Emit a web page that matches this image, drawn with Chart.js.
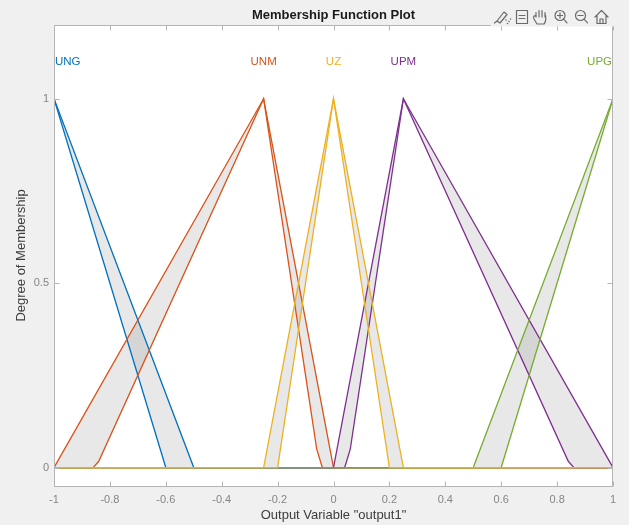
<!DOCTYPE html>
<html>
<head>
<meta charset="utf-8">
<title>Membership Function Plot</title>
<script src="https://cdn.jsdelivr.net/npm/chart.js@4/dist/chart.umd.min.js"></script>
<style>
  html, body { margin: 0; padding: 0; background: #f0f0f0; }
  #wrap { width: 629px; height: 525px; }
</style>
</head>
<body>
<div id="wrap"><canvas id="mf" width="629" height="525"></canvas></div>
<script>
// Axis ticks
const xTicks = [-1, -0.8, -0.6, -0.4, -0.2, 0, 0.2, 0.4, 0.6, 0.8, 1];
const yTicks = [0, 0.5, 1];

// Interval type-2 membership functions of "output1"
const mfNames = ['UNG', 'UNM', 'UZ', 'UPM', 'UPG'];
const mfPeaks = [-1, -0.25, 0, 0.25, 1];

// [x, degree] vertices of the upper and lower membership functions
const ungUpper = [[-1, 1], [-0.5, 0], [1, 0]];
const ungLower = [[-1, 1], [-0.6, 0], [1, 0]];
const unmUpper = [[-1, 0], [-0.25, 1], [0, 0], [1, 0]];
const unmLower = [[-1, 0], [-0.86, 0], [-0.84, 0.017], [-0.25, 1], [-0.06, 0.05], [-0.04, 0], [1, 0]];
const uzUpper  = [[-1, 0], [-0.25, 0], [0, 1], [0.25, 0], [1, 0]];
const uzLower  = [[-1, 0], [-0.2, 0], [0, 1], [0.2, 0], [1, 0]];
const upmUpper = [[-1, 0], [0, 0], [0.25, 1], [1, 0]];
const upmLower = [[-1, 0], [0.04, 0], [0.06, 0.05], [0.25, 1], [0.84, 0.017], [0.86, 0], [1, 0]];
const upgUpper = [[-1, 0], [0.5, 0], [1, 1]];
const upgLower = [[-1, 0], [0.6, 0], [1, 1]];

const mfUpper = [ungUpper, unmUpper, uzUpper, upmUpper, upgUpper];
const mfLower = [ungLower, unmLower, uzLower, upmLower, upgLower];

const palette = ['#0072BD', '#D95319', '#EDB120', '#7E2F8E', '#77AC30'];
const drawOrder = [4, 3, 0, 2, 1];   // smaller = drawn later (on top)
const FONT = '"Liberation Sans", Arial, Helvetica, sans-serif';

const toPts = arr => arr.map(([x, y]) => ({ x, y }));

const datasets = [];
mfNames.forEach((name, i) => {
  const upperIndex = datasets.length;
  datasets.push({
    label: name + ' upper',
    data: toPts(mfUpper[i]),
    borderColor: palette[i],
    borderWidth: 1.3,
    pointRadius: 0,
    tension: 0,
    fill: false,
    order: drawOrder[i]
  });
  datasets.push({
    label: name + ' lower',
    data: toPts(mfLower[i]),
    borderColor: palette[i],
    borderWidth: 1.3,
    pointRadius: 0,
    tension: 0,
    fill: { target: upperIndex },
    backgroundColor: 'rgba(120,120,120,0.17)',
    order: drawOrder[i]
  });
});

// Frame, inward ticks, MF names, title and the axes toolbar
const decor = {
  id: 'decor',
  beforeDraw(chart) {
    const { ctx, chartArea: a, width, height } = chart;
    ctx.save();
    ctx.fillStyle = '#f0f0f0';
    ctx.fillRect(0, 0, width, height);
    ctx.fillStyle = '#ffffff';
    ctx.fillRect(a.left, a.top, a.right - a.left, a.bottom - a.top);
    ctx.restore();
  },
  afterDraw(chart) {
    const { ctx, chartArea: a } = chart;
    const xs = chart.scales.x, ys = chart.scales.y;
    const L = a.left + 0.5, R = a.right - 0.5, T = a.top + 0.5, B = a.bottom + 0.5;
    ctx.save();

    // axes box
    ctx.strokeStyle = '#b4b4b4';
    ctx.lineWidth = 1;
    ctx.beginPath();
    ctx.moveTo(L, T); ctx.lineTo(R, T); ctx.lineTo(R, B); ctx.lineTo(L, B); ctx.closePath();
    ctx.stroke();

    // inward tick marks
    const tl = 5;
    ctx.beginPath();
    xs.ticks.forEach(t => {
      const px = Math.round(xs.getPixelForValue(t.value)) + 0.5;
      ctx.moveTo(px, B); ctx.lineTo(px, B - tl);
      ctx.moveTo(px, T); ctx.lineTo(px, T + tl);
    });
    ys.ticks.forEach(t => {
      const py = Math.round(ys.getPixelForValue(t.value)) + 0.5;
      ctx.moveTo(L, py); ctx.lineTo(L + tl, py);
      ctx.moveTo(R, py); ctx.lineTo(R - tl, py);
    });
    ctx.stroke();

    // membership function names above each peak
    ctx.font = '11.5px ' + FONT;
    ctx.textBaseline = 'middle';
    ctx.textAlign = 'center';
    const ly = ys.getPixelForValue(1.1);
    mfNames.forEach((name, i) => {
      const w = ctx.measureText(name).width;
      let cx = xs.getPixelForValue(mfPeaks[i]);
      cx = Math.min(Math.max(cx, a.left + 1 + w / 2), a.right - 1 - w / 2);
      ctx.fillStyle = palette[i];
      ctx.fillText(name, cx, ly);
    });

    // title
    ctx.font = 'bold 13px ' + FONT;
    ctx.fillStyle = '#1a1a1a';
    ctx.fillText('Membership Function Plot', (a.left + a.right) / 2, 15);

    // axes toolbar
    ctx.fillStyle = '#f0f0f0';
    ctx.fillRect(491, 0, a.right - 491 + 1, a.top + 1.5);
    ctx.strokeStyle = '#6a6a6a';
    ctx.lineWidth = 1.2;
    ctx.lineJoin = 'round';
    ctx.lineCap = 'round';

    // brush
    ctx.beginPath();
    ctx.moveTo(497, 21); ctx.lineTo(504, 12); ctx.lineTo(507, 14.5); ctx.lineTo(500, 23); ctx.closePath();
    ctx.moveTo(494.5, 23); ctx.lineTo(497, 21);
    ctx.stroke();
    ctx.fillStyle = '#6a6a6a';
    [[506, 20], [509, 21.5], [507.5, 23.5], [510.5, 19]].forEach(([dx, dy]) => {
      ctx.beginPath(); ctx.arc(dx, dy, 0.8, 0, Math.PI * 2); ctx.fill();
    });

    // data tip
    ctx.beginPath();
    ctx.rect(516.5, 10.5, 11, 13);
    ctx.moveTo(519, 15.5); ctx.lineTo(525, 15.5);
    ctx.moveTo(519, 18.5); ctx.lineTo(525, 18.5);
    ctx.stroke();

    // pan hand
    ctx.beginPath();
    [[536, 12.5], [539, 10.5], [542, 10.5], [545, 12.5]].forEach(([fx, fy]) => {
      ctx.moveTo(fx, 17); ctx.lineTo(fx, fy);
    });
    ctx.moveTo(536, 16);
    ctx.quadraticCurveTo(532.5, 15, 534, 19);
    ctx.lineTo(537, 24); ctx.lineTo(544, 24);
    ctx.quadraticCurveTo(546.5, 21, 545.5, 15);
    ctx.stroke();

    // zoom in / zoom out
    [[560, '+'], [580.5, '-']].forEach(([cx, kind]) => {
      ctx.beginPath();
      ctx.arc(cx, 15.5, 5, 0, Math.PI * 2);
      ctx.moveTo(cx + 3.6, 19.1); ctx.lineTo(cx + 7, 22.8);
      ctx.moveTo(cx - 2.6, 15.5); ctx.lineTo(cx + 2.6, 15.5);
      if (kind === '+') { ctx.moveTo(cx, 12.9); ctx.lineTo(cx, 18.1); }
      ctx.stroke();
    });

    // home
    ctx.beginPath();
    ctx.moveTo(595, 17); ctx.lineTo(601.5, 10.5); ctx.lineTo(608, 17);
    ctx.moveTo(597, 15.5); ctx.lineTo(597, 23.5); ctx.lineTo(606, 23.5); ctx.lineTo(606, 15.5);
    ctx.moveTo(600, 23.5); ctx.lineTo(600, 19); ctx.lineTo(603, 19); ctx.lineTo(603, 23.5);
    ctx.stroke();

    ctx.restore();
  }
};

new Chart(document.getElementById('mf'), {
  type: 'line',
  data: { datasets },
  options: {
    responsive: false,
    devicePixelRatio: 1,
    animation: false,
    parsing: true,
    layout: { padding: { top: 25, right: 16, left: 0, bottom: 0 } },
    plugins: {
      legend: { display: false },
      tooltip: { enabled: false },
      filler: { drawTime: 'beforeDatasetsDraw', propagate: false }
    },
    scales: {
      x: {
        type: 'linear',
        min: -1,
        max: 1,
        afterBuildTicks: s => { s.ticks = xTicks.map(v => ({ value: v })); },
        afterFit: s => { s.height = 39; },
        grid: { display: false, drawTicks: false },
        border: { display: false },
        ticks: {
          autoSkip: false,
          maxRotation: 0,
          padding: 7,
          color: '#858585',
          font: { family: FONT, size: 11 },
          callback: v => String(v)
        },
        title: {
          display: true,
          text: 'Output Variable "output1"',
          color: '#3c3c3c',
          font: { family: FONT, size: 13 },
          padding: { top: 0, bottom: 2 }
        }
      },
      y: {
        type: 'linear',
        min: -0.05,
        max: 1.2,
        afterBuildTicks: s => { s.ticks = yTicks.map(v => ({ value: v })); },
        afterFit: s => { s.width = 54; },
        grid: { display: false, drawTicks: false },
        border: { display: false },
        ticks: {
          padding: 5,
          color: '#858585',
          font: { family: FONT, size: 11 },
          callback: v => String(v)
        },
        title: {
          display: true,
          text: 'Degree of Membership',
          color: '#3c3c3c',
          font: { family: FONT, size: 13 },
          padding: { top: 14, bottom: 0 }
        }
      }
    }
  },
  plugins: [decor]
});
</script>
</body>
</html>
